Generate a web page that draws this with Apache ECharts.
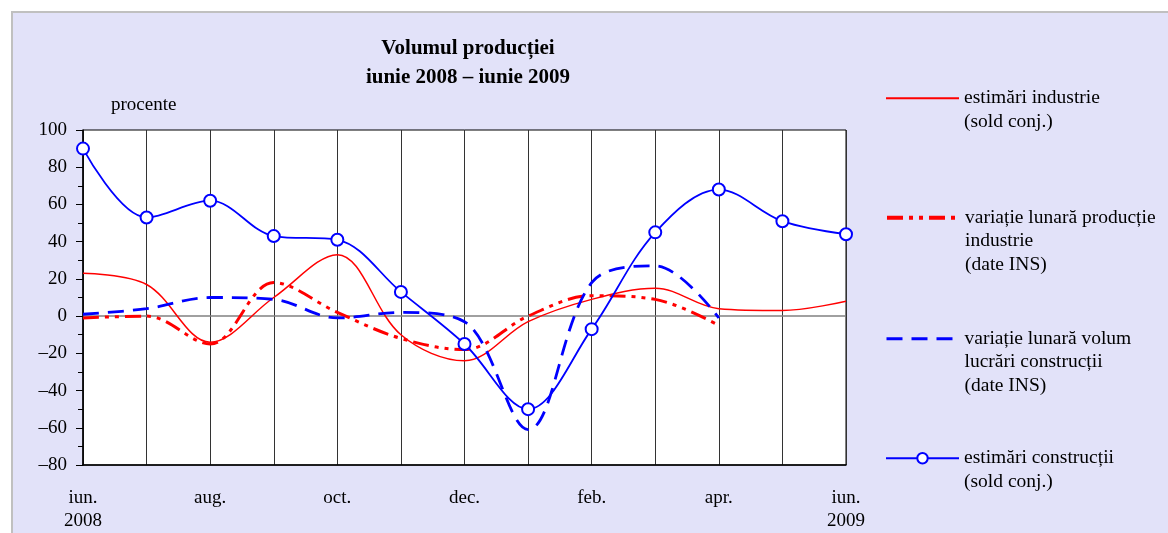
<!DOCTYPE html>
<html><head><meta charset="utf-8">
<script src="https://cdn.jsdelivr.net/npm/echarts@6/dist/echarts.min.js"></script>
<style>
html,body{margin:0;padding:0;background:#fff;}
#wrap{position:relative;width:1168px;height:533px;overflow:hidden;}
#frame{position:absolute;left:11px;top:11px;width:1200px;height:560px;background:#e2e2f9;border:2px solid #c0c0c0;}
#chart{position:absolute;left:0;top:0;width:1168px;height:533px;}
</style></head>
<body><div id="wrap"><div id="frame"></div><div id="chart"></div></div>
<script>
// ---- data ----
const categories = ['iun. 2008','iul.','aug.','sep.','oct.','nov.','dec.','ian.','feb.','mar.','apr.','mai','iun. 2009'];
const tickLabels = ['iun.\n2008','','aug.','','oct.','','dec.','','feb.','','apr.','','iun.\n2009'];
const industryEstimates = [23, 17, -14, 10, 33, -10, -24, -3, 9, 15, 4, 3, 8];
const industryMonthly = [-1, 0, -15, 18, 2, -12, -18, 0, 11, 9, -5, null, null];
const constructionMonthly = [1, 4, 10, 9, -1, 2, -3, -61, 18, 27, -1, null, null];
const constructionEstimates = [90, 53, 62, 43, 41, 13, -15, -50, -7, 45, 68, 51, 44];
const seriesNames = ['estimări industrie', 'variație lunară producție industrie', 'variație lunară volum lucrări construcții', 'estimări construcții'];
const legendLines = [
  ['estimări industrie', '(sold conj.)'],
  ['variație lunară producție', 'industrie', '(date INS)'],
  ['variație lunară volum', 'lucrări construcții', '(date INS)'],
  ['estimări construcții', '(sold conj.)']
];
const titleLines = ['Volumul producției', 'iunie 2008 – iunie 2009'];
const yUnit = 'procente';

const FONT = '"Liberation Serif", "Times New Roman", serif';
const chart = echarts.init(document.getElementById('chart'), null, {renderer: 'canvas'});

function legendLabel(lines) {
  return '\n'.repeat(lines.length - 1) + lines.join('\n');
}
const legendTops = [63, 159, 280, 423];
const LH = 23.5;
const legends = seriesNames.map((n, i) => ({
  data: [n],
  orient: 'vertical',
  left: 885,
  top: legendTops[i],
  padding: 0,
  itemWidth: 73,
  itemHeight: 13,
  selectedMode: false,
  formatter: () => legendLabel(legendLines[i]),
  textStyle: {fontFamily: FONT, fontSize: 19.5, color: '#000', lineHeight: LH},
  itemStyle: i === 3 ? {} : {opacity: 0},
  lineStyle: i === 1 ? {width: 4} : (i === 2 ? {width: 3} : {})
}));

chart.setOption({
  animation: false,
  title: [
    {text: titleLines.join('\n'), left: 468, top: 34, padding: 0, textAlign: 'center',
     textStyle: {fontFamily: FONT, fontSize: 21, fontWeight: 'bold', color: '#000', lineHeight: 29}},
    {text: yUnit, left: 111, top: 96, padding: 0,
     textStyle: {fontFamily: FONT, fontSize: 19, fontWeight: 'normal', color: '#000'}}
  ],
  legend: legends,
  grid: {left: 83, right: 322, top: 130, bottom: 68, show: true, backgroundColor: '#fff', borderColor: '#000', borderWidth: 1, containLabel: false},
  xAxis: {
    type: 'category', data: categories, boundaryGap: false,
    axisLine: {onZero: false, lineStyle: {color: '#000', width: 1.5}},
    axisTick: {show: false},
    splitLine: {show: true, interval: 0, lineStyle: {color: '#333', width: 1}},
    axisLabel: {interval: 0, formatter: (v, i) => tickLabels[i], fontFamily: FONT, fontSize: 19, color: '#000', lineHeight: 23, margin: 22}
  },
  yAxis: {
    type: 'value', min: -80, max: 100, interval: 20,
    axisLine: {show: true, lineStyle: {color: '#000', width: 1.5}},
    axisTick: {show: true, length: 7, lineStyle: {color: '#000'}},
    minorTick: {show: true, splitNumber: 2, length: 5, lineStyle: {color: '#000'}},
    splitLine: {show: false},
    axisLabel: {formatter: v => v < 0 ? '\u2013' + Math.abs(v) : String(v), fontFamily: FONT, fontSize: 19, color: '#000', margin: 16}
  },
  series: [
    {name: seriesNames[0], type: 'line', data: industryEstimates, smooth: 0.35, symbol: 'none', showSymbol: false,
     lineStyle: {color: '#ff0000', width: 1.5}, itemStyle: {color: '#ff0000'}, z: 3,
     markLine: {silent: true, symbol: 'none', label: {show: false}, lineStyle: {color: '#808080', width: 1.5, type: 'solid'}, data: [{yAxis: 0}], z: 1}},
    {name: seriesNames[1], type: 'line', data: industryMonthly, smooth: 0.35, symbol: 'none', showSymbol: false,
     lineStyle: {color: '#ff0000', width: 3, type: [16, 6, 4, 6, 4, 6]}, itemStyle: {color: '#ff0000'}, z: 3},
    {name: seriesNames[2], type: 'line', data: constructionMonthly, smooth: 0.35, symbol: 'none', showSymbol: false,
     lineStyle: {color: '#0000ff', width: 2.8, type: [16, 9]}, itemStyle: {color: '#0000ff'}, z: 4},
    {name: seriesNames[3], type: 'line', data: constructionEstimates, smooth: 0.35, symbol: 'emptyCircle', symbolSize: 12, showSymbol: true,
     lineStyle: {color: '#0000ff', width: 1.8}, itemStyle: {color: '#0000ff', borderWidth: 2, borderColor: '#0000ff'}, z: 5}
  ]
});
</script></body></html>
